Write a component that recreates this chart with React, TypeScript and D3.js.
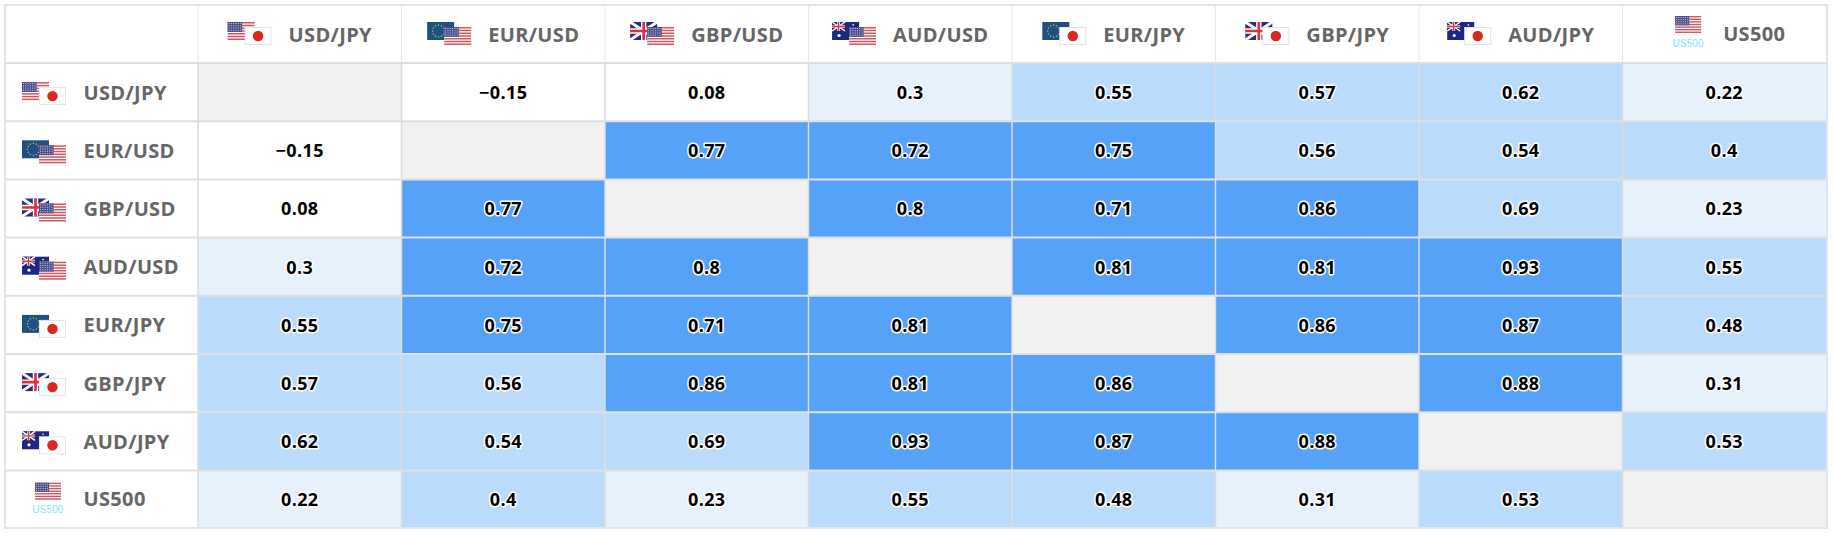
import React, { useEffect, useRef } from 'react';
import * as d3 from 'd3';

const width = 1834;
const height = 538;

const pairs = ['USD/JPY', 'EUR/USD', 'GBP/USD', 'AUD/USD', 'EUR/JPY', 'GBP/JPY', 'AUD/JPY', 'US500'];

const usdJpy = [null, -0.15, 0.08, 0.3, 0.55, 0.57, 0.62, 0.22];
const eurUsd = [-0.15, null, 0.77, 0.72, 0.75, 0.56, 0.54, 0.4];
const gbpUsd = [0.08, 0.77, null, 0.8, 0.71, 0.86, 0.69, 0.23];
const audUsd = [0.3, 0.72, 0.8, null, 0.81, 0.81, 0.93, 0.55];
const eurJpy = [0.55, 0.75, 0.71, 0.81, null, 0.86, 0.87, 0.48];
const gbpJpy = [0.57, 0.56, 0.86, 0.81, 0.86, null, 0.88, 0.31];
const audJpy = [0.62, 0.54, 0.69, 0.93, 0.87, 0.88, null, 0.53];
const us500 = [0.22, 0.4, 0.23, 0.55, 0.48, 0.31, 0.53, null];

const rows = [usdJpy, eurUsd, gbpUsd, audUsd, eurJpy, gbpJpy, audJpy, us500];

const strength = d3.scaleThreshold<number, string>()
    .domain([0.2, 0.4, 0.7])
    .range(['#ffffff', '#e7f1fc', '#bbdbfd', '#55a2f8']);

const FONT = '"Open Sans", "Noto Sans", sans-serif';

function drawUS(g, x, y, w, h) {
    g.append('rect').attr('x', x).attr('y', y).attr('width', w).attr('height', h).attr('fill', '#fff');
    const stripe = d3.scaleBand().domain(d3.range(7).map(String)).range([y, y + h]).paddingInner(0.45);
    d3.range(7).forEach(i => {
        g.append('rect').attr('x', x).attr('y', stripe(String(i))).attr('width', w)
            .attr('height', stripe.bandwidth()).attr('fill', '#d0575f');
    });
    g.append('rect').attr('x', x).attr('y', y).attr('width', w * 0.54).attr('height', h * 0.55).attr('fill', '#4a4f8c');
    for (let i = 0; i < 6; i++) {
        for (let j = 0; j < 4; j++) {
            g.append('rect').attr('x', x + 1 + i * w * 0.085).attr('y', y + 1 + j * h * 0.125)
                .attr('width', 1).attr('height', 1).attr('fill', '#c9cbe0');
        }
    }
}

function drawJP(g, x, y, w, h) {
    g.append('rect').attr('x', x + 0.5).attr('y', y + 0.5).attr('width', w - 1).attr('height', h - 1)
        .attr('fill', '#fff').attr('stroke', '#e4e4e4');
    g.append('circle').attr('cx', x + w / 2).attr('cy', y + h / 2).attr('r', h * 0.29).attr('fill', '#d9291f');
}

function drawEU(g, x, y, w, h) {
    g.append('rect').attr('x', x).attr('y', y).attr('width', w).attr('height', h).attr('fill', '#1f5083');
    d3.range(12).forEach(i => {
        const a = (i / 12) * Math.PI * 2;
        g.append('circle').attr('cx', x + w * 0.42 + Math.cos(a) * h * 0.33).attr('cy', y + h / 2 + Math.sin(a) * h * 0.33)
            .attr('r', 0.8).attr('fill', '#b9b04a');
    });
}

function drawUnion(g, x, y, w, h) {
    g.append('rect').attr('x', x).attr('y', y).attr('width', w).attr('height', h).attr('fill', '#26307a');
    g.append('path').attr('d', `M${x},${y}L${x + w},${y + h}M${x + w},${y}L${x},${y + h}`)
        .attr('stroke', '#fff').attr('stroke-width', h * 0.16);
    g.append('path').attr('d', `M${x + w / 2},${y}V${y + h}M${x},${y + h / 2}H${x + w}`)
        .attr('stroke', '#fff').attr('stroke-width', h * 0.3);
    g.append('path').attr('d', `M${x + w / 2},${y}V${y + h}M${x},${y + h / 2}H${x + w}`)
        .attr('stroke', '#e0313f').attr('stroke-width', h * 0.15);
}

function drawAU(g, x, y, w, h) {
    g.append('rect').attr('x', x).attr('y', y).attr('width', w).attr('height', h).attr('fill', '#1b2a80');
    drawUnion(g, x, y, w * 0.48, h * 0.5);
    g.append('circle').attr('cx', x + w * 0.26).attr('cy', y + h * 0.75).attr('r', 1.6).attr('fill', '#fff');
    g.append('circle').attr('cx', x + w * 0.78).attr('cy', y + h * 0.16).attr('r', 0.8).attr('fill', '#fff');
}

const flagDrawers = { USD: drawUS, JPY: drawJP, EUR: drawEU, GBP: drawUnion, AUD: drawAU };

function drawFlagBlock(g, pair, x, cy) {
    if (pair === 'US500') {
        drawUS(g, x + 2, cy - 17, 26, 17);
        g.append('text').attr('x', x + 15).attr('y', cy + 13.5).attr('text-anchor', 'middle')
            .attr('font-family', '"Liberation Sans", Arial, sans-serif').attr('font-size', 10)
            .attr('letter-spacing', 0.1)
            .attr('fill', '#8adff8').text('US500');
        return;
    }
    const [base, quote] = pair.split('/');
    flagDrawers[base](g, x, cy - 11, 27, 18);
    flagDrawers[quote](g, x + 17, cy - 6, 27, 18);
}

export default function App() {
    const ref = useRef<SVGSVGElement>(null);

    useEffect(() => {
        const svg = d3.select(ref.current);
        svg.selectAll('*').remove();

        const margin = { top: 6, right: 8, left: 6 };
        const tableBottom = 527;
        const firstCol = 192;
        const headerBottom = 63;

        const x = d3.scaleBand().domain(pairs).range([margin.left + firstCol, width - margin.right]);
        // the last row is cut a little short by the frame
        const y = d3.scaleBand().domain(pairs).range([headerBottom, headerBottom + 8 * 58.2]);
        const rowMid = p => (y(p) + Math.min(y(p) + y.bandwidth(), tableBottom)) / 2;

        svg.append('rect').attr('width', width).attr('height', height).attr('fill', '#fff');

        // cells
        const cells = svg.append('g');
        rows.forEach((vals, r) => {
            vals.forEach((v, c) => {
                cells.append('rect')
                    .attr('x', x(pairs[c]))
                    .attr('y', y(pairs[r]))
                    .attr('width', x.bandwidth())
                    .attr('height', y.bandwidth())
                    .attr('fill', v === null ? '#f1f1f1' : strength(v));
            });
        });

        // grid lines
        const grid = svg.append('g');
        pairs.forEach(p => {
            grid.append('line').attr('x1', margin.left).attr('x2', width - margin.right)
                .attr('y1', y(p)).attr('y2', y(p))
                .attr('stroke', '#dddfe0').attr('stroke-width', 2);
            grid.append('line').attr('x1', x(p)).attr('x2', x(p))
                .attr('y1', headerBottom).attr('y2', tableBottom)
                .attr('stroke', '#dcdcdc').attr('stroke-width', 1.5);
            grid.append('line').attr('x1', x(p)).attr('x2', x(p))
                .attr('y1', margin.top).attr('y2', headerBottom)
                .attr('stroke', '#e8e8e8').attr('stroke-width', 1);
        });

        // outer frame
        svg.append('rect').attr('x', margin.left - 1).attr('y', margin.top - 1)
            .attr('width', width - margin.left - margin.right + 2)
            .attr('height', tableBottom - margin.top + 2)
            .attr('fill', 'none').attr('stroke', '#e0e7e9').attr('stroke-width', 2);
        svg.append('rect').attr('x', 0).attr('y', tableBottom + 2)
            .attr('width', width).attr('height', height - tableBottom - 2).attr('fill', '#fff');

        // values, white halo behind the digits
        rows.forEach((vals, r) => {
            vals.forEach((v, c) => {
                if (v === null) return;
                svg.append('text')
                    .attr('x', x(pairs[c]) + x.bandwidth() / 2)
                    .attr('y', rowMid(pairs[r]) + 0.5)
                    .attr('dy', '0.35em')
                    .attr('text-anchor', 'middle')
                    .attr('font-family', FONT)
                    .attr('font-size', 18)
                    .attr('font-weight', 700)
                    .attr('letter-spacing', 0.4)
                    .attr('fill', '#000')
                    .attr('stroke', '#fff')
                    .attr('stroke-width', 3)
                    .attr('stroke-linejoin', 'round')
                    .style('paint-order', 'stroke')
                    .text(String(v).replace('-', '\u2212'));
            });
        });

        const label = (g, text, lx, ly) => g.append('text')
            .attr('x', lx).attr('y', ly).attr('dy', '0.35em')
            .attr('font-family', FONT).attr('font-size', 20).attr('font-weight', 700)
            .attr('letter-spacing', 0.35)
            .attr('fill', '#666').text(text);

        // row headers
        const rowHead = svg.append('g');
        pairs.forEach(p => {
            const cy = rowMid(p) + 1;
            const g = rowHead.append('g');
            drawFlagBlock(g, p, p === 'US500' ? 33 : 22, cy);
            label(g, p, 83.5, cy - (p === 'US500' ? 1 : 0.5));
        });

        // column headers, flag and label centred together
        const colHead = svg.append('g');
        pairs.forEach(p => {
            const cx = x(p) + x.bandwidth() / 2;
            const cy = 35;
            const g = colHead.append('g');
            const t = label(g, p, 0, cy - (p === 'US500' ? 1.5 : 0));
            const tw = t.node().getComputedTextLength();
            const fw = p === 'US500' ? 30 : 44;
            const gap = p === 'US500' ? 20 : 17;
            const left = cx - (fw + gap + tw) / 2 + (p === 'US500' ? 5 : 0);
            t.attr('x', left + fw + gap);
            drawFlagBlock(g, p, left, cy - 2);
        });
    }, []);

    return <svg ref={ref} width={width} height={height} style={{ position: 'absolute', left: 0, top: 0, display: 'block' }} />;
}
